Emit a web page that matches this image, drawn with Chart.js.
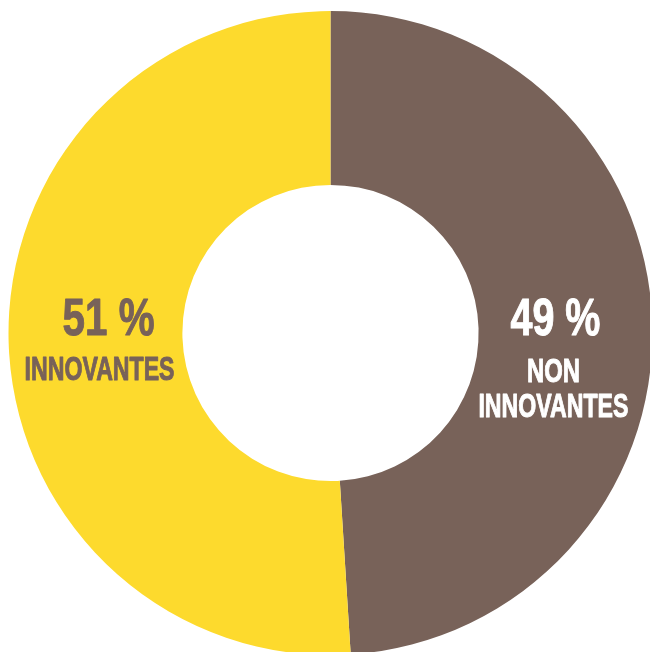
<!DOCTYPE html>
<html>
<head>
<meta charset="utf-8">
<script src="https://cdn.jsdelivr.net/npm/chart.js@4/dist/chart.umd.min.js"></script>
<style>
  html, body { margin: 0; padding: 0; background: #ffffff; overflow: hidden; }
  #wrap { position: absolute; left: 0; top: 0; width: 680px; height: 680px; }
</style>
</head>
<body>
<div id="wrap"><canvas id="donut"></canvas></div>
<script>
const categories = ["Non innovantes", "Innovantes"];
const shares = [49, 51];
const labelLines = [["NON", "INNOVANTES"], ["INNOVANTES"]];

const sliceColors = ["#786259", "#FDDA2D"];
const textColors = ["#ffffff", "#786259"];
const labelFont = '"Liberation Sans", Arial, sans-serif';

// per-line placement relative to the slice centre: [dx, baseline dy, width, size]
const labelLayout = [
  [[-10, 9, 90, 51], [-12, 56, 53, 34], [-12, 91, 150, 34]],
  [[13, -5, 92, 51], [4, 40, 150, 34]]
];

const sliceLabels = {
  id: "sliceLabels",
  afterDatasetsDraw(chart) {
    const ctx = chart.ctx;
    const arcs = chart.getDatasetMeta(0).data;

    arcs.forEach((arc, i) => {
      const center = arc.getCenterPoint();
      const lines = [shares[i] + " %", ...labelLines[i]];

      ctx.save();
      ctx.fillStyle = textColors[i];
      ctx.strokeStyle = textColors[i];
      ctx.lineJoin = "round";
      ctx.textAlign = "center";
      ctx.textBaseline = "alphabetic";

      lines.forEach((text, j) => {
        const [dx, dy, width, size] = labelLayout[i][j];
        ctx.font = "bold " + size + "px " + labelFont;
        const sx = width / ctx.measureText(text).width;
        ctx.save();
        ctx.translate(center.x + dx, center.y + dy);
        ctx.scale(sx, 1);
        ctx.lineWidth = 1;
        ctx.fillText(text, 0, 0);
        ctx.strokeText(text, 0, 0);
        ctx.restore();
      });

      ctx.restore();
    });
  }
};

new Chart(document.getElementById("donut"), {
  type: "doughnut",
  data: {
    labels: categories,
    datasets: [
      {
        data: shares,
        backgroundColor: sliceColors,
        borderWidth: 0,
        hoverOffset: 0
      }
    ]
  },
  options: {
    responsive: true,
    maintainAspectRatio: false,
    animation: false,
    cutout: "46%",
    layout: {
      padding: { left: 8.5, top: 11, right: 27.5, bottom: 25 }
    },
    plugins: {
      legend: { display: false },
      tooltip: { enabled: false }
    }
  },
  plugins: [sliceLabels]
});
</script>
</body>
</html>
